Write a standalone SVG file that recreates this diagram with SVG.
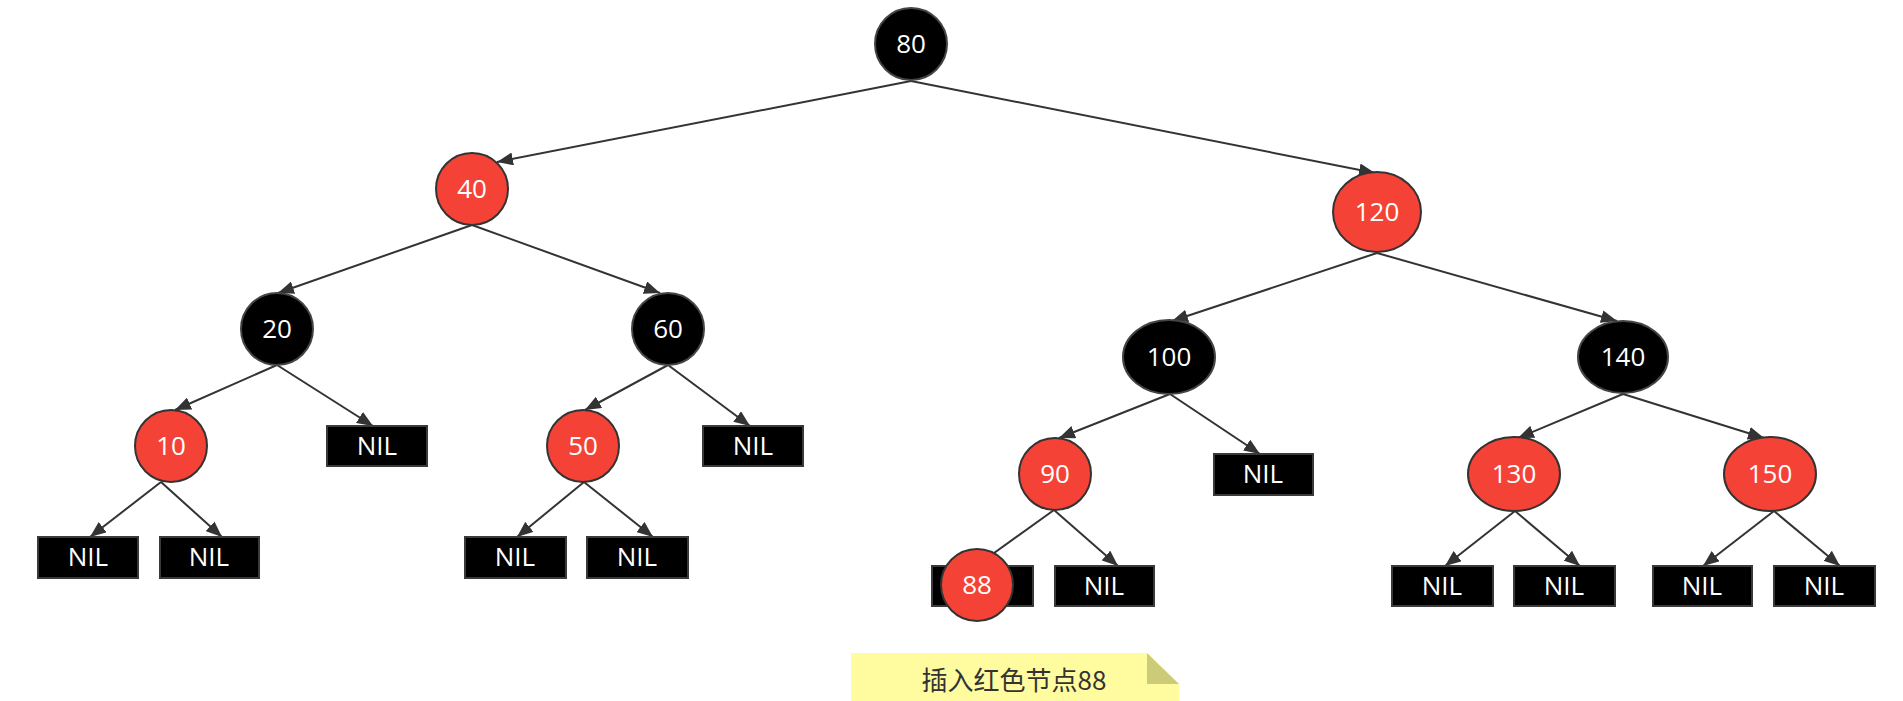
<svg xmlns="http://www.w3.org/2000/svg" width="1903" height="701" viewBox="0 0 1903 701">
<style>
.e{stroke:#333;stroke-width:2;fill:none;marker-end:url(#arr)}
.red{fill:#f44336;stroke:#333;stroke-width:2}
.blk{fill:#000;stroke:#444;stroke-width:2}
.nil{fill:#000;stroke:#3a3a3a;stroke-width:2}
.t{font-family:"Open Sans","Noto Sans",sans-serif;font-size:26px;fill:#fff;text-anchor:middle}
.note{font-family:"Noto Sans CJK SC","Noto Sans",sans-serif;font-size:26px;fill:#333;text-anchor:middle}
</style>
<defs>
<marker id="arr" markerUnits="userSpaceOnUse" markerWidth="17" markerHeight="13" refX="16" refY="6.5" orient="auto">
<path d="M0,0 L16,6.5 L0,13 z" fill="#333"/>
</marker>
</defs>
<rect width="1903" height="701" fill="#fff"/>
<g id="connectors">
<line class="e" x1="911" y1="81" x2="497" y2="162"/>
<line class="e" x1="911" y1="81" x2="1375" y2="173"/>
<line class="e" x1="472" y1="225" x2="278" y2="293"/>
<line class="e" x1="472" y1="225" x2="660" y2="293"/>
<line class="e" x1="1377" y1="253" x2="1172" y2="321"/>
<line class="e" x1="1377" y1="253" x2="1617" y2="321"/>
<line class="e" x1="277" y1="365" x2="175" y2="410"/>
<line class="e" x1="277" y1="365" x2="373" y2="426"/>
<line class="e" x1="668" y1="365" x2="585" y2="410"/>
<line class="e" x1="668" y1="365" x2="750" y2="426"/>
<line class="e" x1="1170" y1="394" x2="1059" y2="438"/>
<line class="e" x1="1170" y1="394" x2="1260" y2="454"/>
<line class="e" x1="1623" y1="394" x2="1518" y2="438"/>
<line class="e" x1="1623" y1="394" x2="1764" y2="438"/>
<line class="e" x1="161" y1="482" x2="90" y2="537"/>
<line class="e" x1="161" y1="482" x2="222" y2="537"/>
<line class="e" x1="584" y1="482" x2="517" y2="537"/>
<line class="e" x1="584" y1="482" x2="653" y2="537"/>
<line class="e" x1="1054" y1="510" x2="976" y2="566"/>
<line class="e" x1="1054" y1="510" x2="1118" y2="566"/>
<line class="e" x1="1515" y1="511" x2="1445" y2="566"/>
<line class="e" x1="1515" y1="511" x2="1580" y2="566"/>
<line class="e" x1="1774" y1="511" x2="1703" y2="566"/>
<line class="e" x1="1774" y1="511" x2="1840" y2="566"/>
</g>
<g id="n80"><circle class="blk" cx="911" cy="44" r="36"/><text class="t" x="911" y="53">80</text></g>
<g id="n40"><circle class="red" cx="472" cy="189" r="36"/><text class="t" x="472" y="198">40</text></g>
<g id="n120"><ellipse class="red" cx="1377" cy="212" rx="44" ry="40"/><text class="t" x="1377" y="221">120</text></g>
<g id="n20"><circle class="blk" cx="277" cy="329" r="36"/><text class="t" x="277" y="338">20</text></g>
<g id="n60"><circle class="blk" cx="668" cy="329" r="36"/><text class="t" x="668" y="338">60</text></g>
<g id="n100"><ellipse class="blk" cx="1169" cy="357" rx="46" ry="37"/><text class="t" x="1169" y="366">100</text></g>
<g id="n140"><ellipse class="blk" cx="1623" cy="357" rx="45" ry="36"/><text class="t" x="1623" y="366">140</text></g>
<g id="n10"><circle class="red" cx="171" cy="446" r="36"/><text class="t" x="171" y="455">10</text></g>
<g id="nil20"><rect class="nil" x="327" y="426" width="100" height="40"/><text class="t" x="377" y="455">NIL</text></g>
<g id="n50"><circle class="red" cx="583" cy="446" r="36"/><text class="t" x="583" y="455">50</text></g>
<g id="nil60"><rect class="nil" x="703" y="426" width="100" height="40"/><text class="t" x="753" y="455">NIL</text></g>
<g id="n90"><circle class="red" cx="1055" cy="474" r="36"/><text class="t" x="1055" y="483">90</text></g>
<g id="nil100"><rect class="nil" x="1214" y="454" width="99" height="41"/><text class="t" x="1263" y="483">NIL</text></g>
<g id="n130"><ellipse class="red" cx="1514" cy="474" rx="46" ry="37"/><text class="t" x="1514" y="483">130</text></g>
<g id="n150"><ellipse class="red" cx="1770" cy="474" rx="46" ry="37"/><text class="t" x="1770" y="483">150</text></g>
<g id="nil10a"><rect class="nil" x="38" y="537" width="100" height="41"/><text class="t" x="88" y="566">NIL</text></g>
<g id="nil10b"><rect class="nil" x="160" y="537" width="99" height="41"/><text class="t" x="209" y="566">NIL</text></g>
<g id="nil50a"><rect class="nil" x="465" y="537" width="101" height="41"/><text class="t" x="515" y="566">NIL</text></g>
<g id="nil50b"><rect class="nil" x="587" y="537" width="101" height="41"/><text class="t" x="637" y="566">NIL</text></g>
<g id="nil88"><rect class="nil" x="932" y="566" width="101" height="40"/></g>
<g id="nil90"><rect class="nil" x="1055" y="566" width="99" height="40"/><text class="t" x="1104" y="595">NIL</text></g>
<g id="nil130a"><rect class="nil" x="1392" y="566" width="101" height="40"/><text class="t" x="1442" y="595">NIL</text></g>
<g id="nil130b"><rect class="nil" x="1514" y="566" width="101" height="40"/><text class="t" x="1564" y="595">NIL</text></g>
<g id="nil150a"><rect class="nil" x="1653" y="566" width="99" height="40"/><text class="t" x="1702" y="595">NIL</text></g>
<g id="nil150b"><rect class="nil" x="1774" y="566" width="101" height="40"/><text class="t" x="1824" y="595">NIL</text></g>
<g id="n88"><circle class="red" cx="977" cy="585" r="36"/><text class="t" x="977" y="594">88</text></g>
<g id="note">
<polygon points="851,653 1147,653 1179,684 1179,701 851,701" fill="#fffca0"/>
<polygon points="1147,653 1147,684 1179,684" fill="#cccc78"/>
<text class="note" x="1014" y="690">插入红色节点88</text>
</g>
</svg>
